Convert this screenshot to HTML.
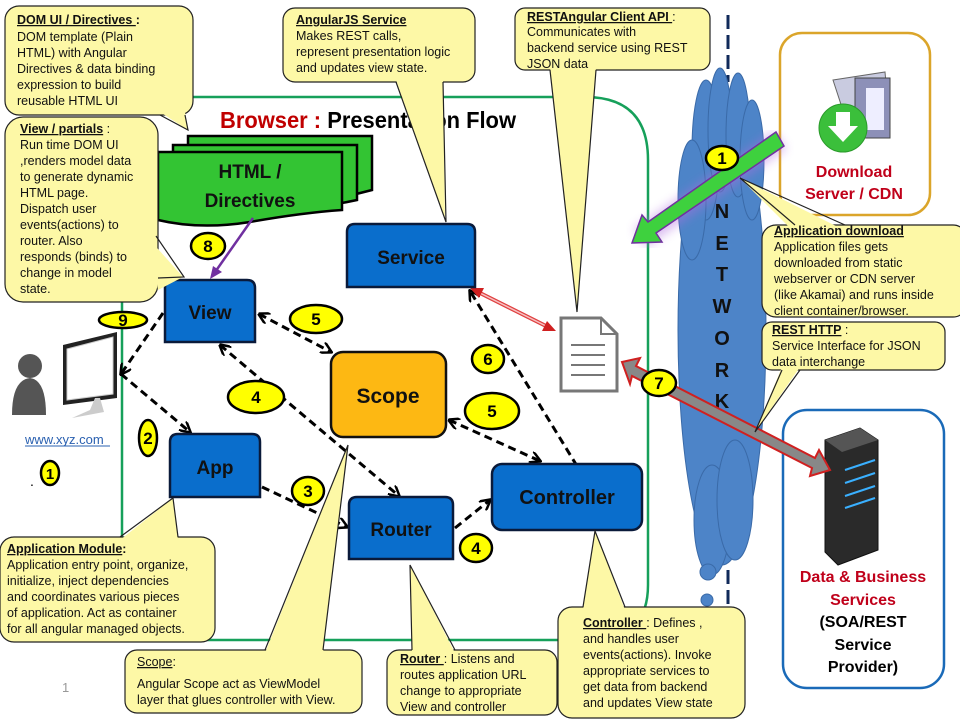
<!DOCTYPE html>
<html><head><meta charset="utf-8"><style>
html,body{margin:0;padding:0;background:#fff;}
svg{display:block;font-family:"Liberation Sans",Arial,sans-serif;}
.ct{font-size:12.5px;fill:#111;}
.bx{font-size:19px;font-weight:bold;fill:#111;text-anchor:middle;}
.call{fill:#fdf8a6;stroke:#222;stroke-width:1.2;}
.cf{fill:#fdf8a6;}
.cs{fill:none;stroke:#222;stroke-width:1.2;}
.da{fill:none;stroke:#000;stroke-width:3;stroke-dasharray:8,5;}
.bl{fill:#0a6ecc;stroke:#0a1a3a;stroke-width:2.5;}
</style></head><body>
<svg width="960" height="720" viewBox="0 0 960 720" xmlns="http://www.w3.org/2000/svg">
<defs>
<marker id="ah" markerWidth="12" markerHeight="12" refX="10" refY="6" orient="auto" markerUnits="userSpaceOnUse"><path d="M0,0 L11,6 L0,12" fill="none" stroke="#000" stroke-width="2.5"/></marker>
<marker id="ahs" markerWidth="12" markerHeight="12" refX="1" refY="6" orient="auto" markerUnits="userSpaceOnUse"><path d="M11,0 L0,6 L11,12" fill="none" stroke="#000" stroke-width="2.5"/></marker>
<filter id="glow"><feGaussianBlur stdDeviation="5"/></filter>
</defs>

<path d="M122,300 L122,640 L590,640 Q648,640 648,585 L648,160 Q648,97 585,97 L190,97" fill="none" stroke="#16a05a" stroke-width="2.5"/>
<text x="220" y="128" font-size="23" font-weight="bold" textLength="296" lengthAdjust="spacingAndGlyphs"><tspan fill="#c00000">Browser : </tspan><tspan fill="#000">Presentation Flow</tspan></text>

<line x1="728" y1="15" x2="728" y2="82" stroke="#102a5a" stroke-width="3" stroke-dasharray="14,6"/>
<line x1="728" y1="570" x2="728" y2="610" stroke="#102a5a" stroke-width="3" stroke-dasharray="14,6"/>
<g fill="#4d84c8" stroke="#3a6aa8" stroke-width="1">
<ellipse cx="722" cy="330" rx="44" ry="235"/>
<ellipse cx="706" cy="150" rx="14" ry="70"/>
<ellipse cx="720" cy="130" rx="12" ry="62"/>
<ellipse cx="738" cy="135" rx="12" ry="62"/>
<ellipse cx="752" cy="160" rx="12" ry="60"/>
<ellipse cx="692" cy="200" rx="14" ry="60"/>
<ellipse cx="712" cy="520" rx="18" ry="55"/>
<ellipse cx="735" cy="500" rx="18" ry="60"/>
<circle cx="708" cy="572" r="8"/>
<circle cx="707" cy="600" r="6"/>
</g>
<g font-size="20" font-weight="bold" fill="#111" text-anchor="middle">
<text x="722" y="218">N</text><text x="722" y="250">E</text><text x="722" y="281">T</text><text x="722" y="313">W</text><text x="722" y="345">O</text><text x="722" y="377">R</text><text x="722" y="408">K</text>
</g>

<rect x="780" y="33" width="150" height="182" rx="22" fill="#fff" stroke="#dba52a" stroke-width="2.5"/>
<path d="M833,80 L885,72 L890,128 L850,132 Z" fill="#c9cbe0" stroke="#666"/>
<rect x="855" y="78" width="35" height="60" fill="#8d90b8" stroke="#444"/>
<rect x="866" y="88" width="18" height="42" fill="#eef"/>
<circle cx="843" cy="128" r="24" fill="#3bbf3b" stroke="#2a9a2a"/>
<path d="M836,112 L850,112 L850,126 L858,126 L843,142 L828,126 L836,126 Z" fill="#fff"/>
<text x="854" y="177" font-size="16" font-weight="bold" fill="#c0001a" text-anchor="middle">Download</text>
<text x="854" y="199" font-size="16" font-weight="bold" fill="#c0001a" text-anchor="middle">Server / CDN</text>

<rect x="783" y="410" width="161" height="278" rx="24" fill="#fff" stroke="#1a6ab8" stroke-width="2.5"/>
<path d="M825,440 L860,428 L878,440 L878,550 L838,565 L825,552 Z" fill="#2a2a2a" stroke="#111"/>
<path d="M825,440 L860,428 L878,440 L842,452 Z" fill="#555"/>
<g stroke="#3ab0ff" stroke-width="2"><line x1="845" y1="470" x2="875" y2="460"/><line x1="845" y1="483" x2="875" y2="473"/><line x1="845" y1="496" x2="875" y2="486"/><line x1="845" y1="508" x2="875" y2="498"/></g>
<text x="863" y="582" font-size="16" font-weight="bold" fill="#c0001a" text-anchor="middle">Data &amp; Business</text>
<text x="863" y="605" font-size="16" font-weight="bold" fill="#c0001a" text-anchor="middle">Services</text>
<text x="863" y="627" font-size="16" font-weight="bold" fill="#000" text-anchor="middle">(SOA/REST</text>
<text x="863" y="650" font-size="16" font-weight="bold" fill="#000" text-anchor="middle">Service</text>
<text x="863" y="672" font-size="16" font-weight="bold" fill="#000" text-anchor="middle">Provider)</text>

<line x1="780" y1="140" x2="640" y2="238" stroke="#b070e0" stroke-width="22" opacity="0.45" filter="url(#glow)"/>
<path d="M776,132 L784,146 L656,233 L662,242 L632,243 L642,215 L648,222 Z" fill="#3ed13e" stroke="#7030a0" stroke-width="1.5"/>

<circle cx="30" cy="366" r="12" fill="#555"/>
<path d="M12,415 Q12,380 30,378 Q46,380 46,415 Z" fill="#555"/>
<path d="M63,345 L117,332 L117,398 L63,405 Z" fill="#222"/>
<path d="M67,349 L113,337 L113,394 L67,400 Z" fill="#fff" stroke="#ccc"/>
<path d="M95,398 L100,398 L104,412 L72,418 L90,410 Z" fill="#ccc"/>
<text x="25" y="444" font-size="13" fill="#2a60b0">www.xyz.com</text>
<line x1="25" y1="446" x2="110" y2="446" stroke="#2a60b0" stroke-width="1"/>
<text x="30" y="486" font-size="14" fill="#000">.</text>
<text x="62" y="692" font-size="13" fill="#999">1</text>

<path d="M188,136 L372,136 L372,190 Q300,210 188,200 Z" fill="#33c433" stroke="#000" stroke-width="2.5"/>
<path d="M173,145 L357,145 L357,200 Q290,215 173,208 Z" fill="#33c433" stroke="#000" stroke-width="2.5"/>
<path d="M158,152 L342,152 L342,210 Q300,213 250,222 Q200,230 158,220 Z" fill="#33c433" stroke="#000" stroke-width="2.5"/>
<text x="250" y="178" font-size="19" font-weight="bold" fill="#111" text-anchor="middle">HTML /</text>
<text x="250" y="207" font-size="19" font-weight="bold" fill="#111" text-anchor="middle">Directives</text>
<line x1="253" y1="218" x2="213" y2="275" stroke="#7030a0" stroke-width="2.5"/>
<path d="M210,279 L213,266 L222,272 Z" fill="#7030a0"/>

<line class="da" x1="259" y1="314" x2="331" y2="352" marker-end="url(#ah)" marker-start="url(#ahs)"/>
<line class="da" x1="220" y1="345" x2="399" y2="496" marker-end="url(#ah)" marker-start="url(#ahs)"/>
<line class="da" x1="163" y1="313" x2="121" y2="374" marker-end="url(#ah)"/>
<line class="da" x1="121" y1="374" x2="190" y2="432" marker-end="url(#ah)"/>
<line class="da" x1="262" y1="487" x2="347" y2="527" marker-end="url(#ah)"/>
<line class="da" x1="455" y1="528" x2="490" y2="500" marker-end="url(#ah)"/>
<line class="da" x1="449" y1="420" x2="540" y2="461" marker-end="url(#ah)" marker-start="url(#ahs)"/>
<line class="da" x1="577" y1="466" x2="470" y2="291" marker-end="url(#ah)"/>

<line x1="478" y1="292" x2="550" y2="328" stroke="#e04040" stroke-width="4"/>
<line x1="478" y1="292" x2="550" y2="328" stroke="#f6c0c0" stroke-width="1.5"/>
<path d="M470,288 L484,288 L479,298 Z" fill="#d02020"/>
<path d="M556,331 L542,331 L547,321 Z" fill="#d02020"/>

<path d="M561,318 L601,318 L617,334 L617,391 L561,391 Z" fill="#fff" stroke="#777" stroke-width="3"/>
<path d="M601,318 L601,334 L617,334" fill="none" stroke="#777" stroke-width="2"/>
<g stroke="#777" stroke-width="2"><line x1="571" y1="345" x2="605" y2="345"/><line x1="571" y1="355" x2="605" y2="355"/><line x1="571" y1="365" x2="605" y2="365"/><line x1="571" y1="375" x2="605" y2="375"/></g>

<path d="M622,362 L640,358 L636,366 L815,458 L819,450 L830,470 L810,476 L812,468 L632,376 L630,384 Z" fill="#888" stroke="#d02020" stroke-width="2"/>

<path class="bl" d="M347,287 L347,232 Q347,224 355,224 L467,224 Q475,224 475,232 L475,287 Z"/>
<text class="bx" x="411" y="264">Service</text>
<path class="bl" d="M165,342 L165,288 Q165,280 173,280 L247,280 Q255,280 255,288 L255,342 Z"/>
<text class="bx" x="210" y="319">View</text>
<path class="bl" d="M170,497 L170,442 Q170,434 178,434 L252,434 Q260,434 260,442 L260,497 Z"/>
<text class="bx" x="215" y="474">App</text>
<path class="bl" d="M349,559 L349,505 Q349,497 357,497 L445,497 Q453,497 453,505 L453,559 Z"/>
<text class="bx" x="401" y="536">Router</text>
<rect class="bl" x="492" y="464" width="150" height="66" rx="10"/>
<text class="bx" x="567" y="504" style="font-size:20px">Controller</text>
<rect x="331" y="352" width="115" height="85" rx="12" fill="#fdb813" stroke="#111" stroke-width="2.5"/>
<text class="bx" x="388" y="403" style="font-size:21px">Scope</text>

<g stroke="#000" stroke-width="2.5" fill="#ffff00">
<ellipse cx="722" cy="158" rx="16" ry="12"/>
<ellipse cx="208" cy="246" rx="17" ry="13"/>
<ellipse cx="123" cy="320" rx="24" ry="8"/>
<ellipse cx="316" cy="319" rx="26" ry="14"/>
<ellipse cx="256" cy="397" rx="28" ry="16"/>
<ellipse cx="488" cy="359" rx="16" ry="14"/>
<ellipse cx="492" cy="411" rx="27" ry="18"/>
<ellipse cx="659" cy="383" rx="17" ry="13"/>
<ellipse cx="148" cy="438" rx="9" ry="18"/>
<ellipse cx="50" cy="473" rx="9" ry="12"/>
<ellipse cx="308" cy="491" rx="16" ry="14"/>
<ellipse cx="476" cy="548" rx="16" ry="14"/>
</g>
<g font-size="17" font-weight="bold" fill="#000" text-anchor="middle">
<text x="722" y="164">1</text><text x="208" y="252">8</text><text x="123" y="326">9</text><text x="316" y="325">5</text>
<text x="256" y="403">4</text><text x="488" y="365">6</text><text x="492" y="417">5</text><text x="659" y="389">7</text>
<text x="148" y="444">2</text><text x="50" y="479" font-size="15">1</text><text x="308" y="497">3</text><text x="476" y="554">4</text>
</g>

<rect class="call" x="5" y="6" width="188" height="109" rx="14"/>
<polygon class="cf" points="160,112 185,112 188,130"/>
<polyline class="cs" points="160,115 188,130 185,115"/>
<text class="ct"><tspan x="17" y="24" font-weight="bold" text-decoration="underline">DOM  UI / Directives </tspan><tspan font-weight="bold"> :</tspan>
<tspan x="17" y="41">DOM  template (Plain</tspan><tspan x="17" y="57">HTML) with Angular</tspan><tspan x="17" y="73">Directives  &amp; data binding</tspan><tspan x="17" y="89">expression to build</tspan><tspan x="17" y="105">reusable HTML UI</tspan></text>

<rect class="call" x="283" y="8" width="192" height="74" rx="12"/>
<polygon class="cf" points="396,80 443,80 445,220"/>
<polyline class="cs" points="396,82 446,222 443,82"/>
<text class="ct"><tspan x="296" y="24" font-weight="bold" text-decoration="underline">AngularJS Service</tspan>
<tspan x="296" y="40">Makes REST calls,</tspan><tspan x="296" y="56">represent presentation logic</tspan><tspan x="296" y="72">and updates view  state.</tspan></text>

<rect class="call" x="515" y="8" width="195" height="62" rx="10"/>
<polygon class="cf" points="550,67 596,67 577,312"/>
<polyline class="cs" points="550,70 577,312 596,70"/>
<text class="ct"><tspan x="527" y="21" font-weight="bold" text-decoration="underline">RESTAngular Client  API </tspan><tspan>:</tspan>
<tspan x="527" y="36">Communicates with</tspan><tspan x="527" y="52">backend service using REST</tspan><tspan x="527" y="68">JSON data</tspan></text>

<rect class="call" x="5" y="117" width="153" height="185" rx="18"/>
<polygon class="cf" points="150,240 158,290 183,277"/>
<polyline class="cs" points="156,236 184,277 158,278"/>
<text class="ct"><tspan x="20" y="133" font-weight="bold" text-decoration="underline">View / partials</tspan><tspan> :</tspan>
<tspan x="20" y="149">Run time DOM UI</tspan><tspan x="20" y="165">,renders model data</tspan><tspan x="20" y="181">to generate dynamic</tspan><tspan x="20" y="197">HTML page.</tspan><tspan x="20" y="213">Dispatch user</tspan><tspan x="20" y="229">events(actions) to</tspan><tspan x="20" y="245">router. Also</tspan><tspan x="20" y="261">responds (binds) to</tspan><tspan x="20" y="277">change in model</tspan><tspan x="20" y="293">state.</tspan></text>

<rect class="call" x="762" y="225" width="205" height="92" rx="14"/>
<polygon class="cf" points="790,228 840,228 740,178"/>
<polyline class="cs" points="795,225 740,178 845,225"/>
<text class="ct"><tspan x="774" y="235" font-weight="bold" text-decoration="underline">Application download</tspan>
<tspan x="774" y="251">Application files gets</tspan><tspan x="774" y="267">downloaded from static</tspan><tspan x="774" y="283">webserver  or CDN server</tspan><tspan x="774" y="299">(like Akamai) and runs inside</tspan><tspan x="774" y="315">client container/browser.</tspan></text>

<rect class="call" x="762" y="322" width="183" height="48" rx="10"/>
<polygon class="cf" points="782,367 800,367 755,432"/>
<polyline class="cs" points="782,370 755,432 800,370"/>
<text class="ct"><tspan x="772" y="334" font-weight="bold" text-decoration="underline">REST HTTP</tspan><tspan> :</tspan>
<tspan x="772" y="350">Service Interface for JSON</tspan><tspan x="772" y="366">data interchange</tspan></text>

<rect class="call" x="0" y="537" width="215" height="105" rx="14"/>
<polygon class="cf" points="120,540 178,540 173,498"/>
<polyline class="cs" points="120,537 173,498 178,537"/>
<text class="ct"><tspan x="7" y="553" font-weight="bold" text-decoration="underline">Application Module</tspan><tspan font-weight="bold">:</tspan>
<tspan x="7" y="569">Application entry point, organize,</tspan><tspan x="7" y="585">initialize, inject dependencies</tspan><tspan x="7" y="601">and coordinates various pieces</tspan><tspan x="7" y="617">of application. Act as container</tspan><tspan x="7" y="633">for all angular managed objects.</tspan></text>

<rect class="call" x="125" y="650" width="237" height="63" rx="12"/>
<polygon class="cf" points="265,653 323,653 348,445"/>
<polyline class="cs" points="265,650 348,445 323,650"/>
<text class="ct"><tspan x="137" y="666" text-decoration="underline">Scope</tspan><tspan>:</tspan>
<tspan x="137" y="688">Angular Scope act as ViewModel</tspan><tspan x="137" y="704">layer that glues controller with View.</tspan></text>

<rect class="call" x="387" y="650" width="170" height="65" rx="12"/>
<polygon class="cf" points="412,653 455,653 410,565"/>
<polyline class="cs" points="412,650 410,565 455,650"/>
<text class="ct"><tspan x="400" y="663" font-weight="bold" text-decoration="underline">Router </tspan><tspan>:    Listens and</tspan>
<tspan x="400" y="679">routes application URL</tspan><tspan x="400" y="695">change to appropriate</tspan><tspan x="400" y="711">View and  controller</tspan></text>

<rect class="call" x="558" y="607" width="187" height="111" rx="14"/>
<polygon class="cf" points="583,610 625,610 595,531"/>
<polyline class="cs" points="583,607 595,531 625,607"/>
<text class="ct"><tspan x="583" y="627" font-weight="bold" text-decoration="underline">Controller </tspan><tspan>: Defines ,</tspan>
<tspan x="583" y="643">and handles user</tspan><tspan x="583" y="659">events(actions). Invoke</tspan><tspan x="583" y="675">appropriate services to</tspan><tspan x="583" y="691">get data from backend</tspan><tspan x="583" y="707">and updates View state</tspan></text>
</svg>
</body></html>
